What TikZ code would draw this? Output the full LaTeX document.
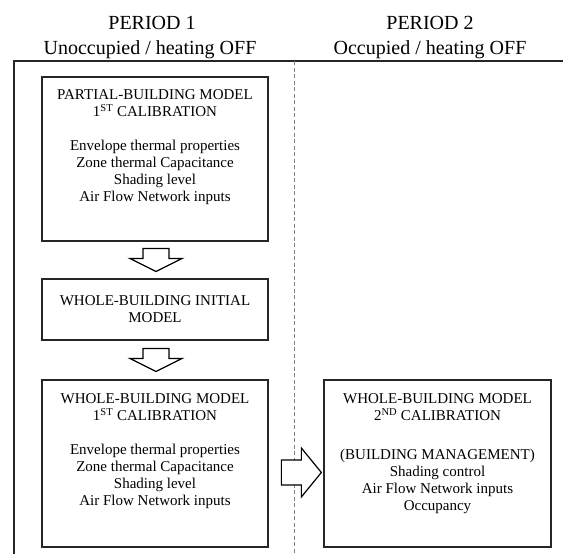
\documentclass[tikz,border=0pt]{standalone}
\usepackage{fontspec}
\setmainfont{Liberation Serif}
\usetikzlibrary{calc}

\tikzset{
  modelbox/.style={draw=black!85, line width=1.3pt, minimum width=226pt, inner sep=0pt},
  boxtext/.style={align=center, inner sep=0pt, font=\fontsize{15}{17}\selectfont},
  titletext/.style={inner sep=0pt, font=\fontsize{20}{24}\selectfont},
  blockarrow/.style={draw=black, line width=1.2pt, fill=white, line join=miter},
}

\begin{document}
\begin{tikzpicture}[x=1pt, y=-1pt]
    \useasboundingbox (0,0) rectangle (563,554);

    % Column headings
    \node[titletext, anchor=base] (per1) at (152,30) {PERIOD 1};
    \node[titletext, anchor=base] (per1sub) at (150,54) {Unoccupied / heating OFF};
    \node[titletext, anchor=base] (per2) at (430,30) {PERIOD 2};
    \node[titletext, anchor=base] (per2sub) at (430,54) {Occupied / heating OFF};

    % Frame and period separator
    \draw[black!85, line width=1.5pt] (14,556) -- (14,61) -- (565,61);
    \draw[gray, line width=0.6pt, dash pattern=on 4pt off 2.5pt] (294,61) -- (294,556);

    % Period 1: partial-building model
    \node[modelbox, minimum height=164pt] (pbm) at (155,159) {};
    \node[boxtext, anchor=north] (pbmtxt) at ($(pbm.north)+(0,13)$)
        {PARTIAL-BUILDING MODEL\\1\textsuperscript{ST} CALIBRATION\\[17pt]
         Envelope thermal properties\\Zone thermal Capacitance\\
         Shading level\\Air Flow Network inputs};

    % Period 1: whole-building initial model
    \node[modelbox, minimum height=61pt, boxtext] (wbi) at (155,309.5)
        {WHOLE-BUILDING INITIAL\\MODEL};

    % Period 1: whole-building model, 1st calibration
    \node[modelbox, minimum height=167pt] (wbm1) at (155,463.5) {};
    \node[boxtext, anchor=north] (wbm1txt) at ($(wbm1.north)+(0,14)$)
        {WHOLE-BUILDING MODEL\\1\textsuperscript{ST} CALIBRATION\\[17pt]
         Envelope thermal properties\\Zone thermal Capacitance\\
         Shading level\\Air Flow Network inputs};

    % Period 2: whole-building model, 2nd calibration
    \node[modelbox, minimum width=227pt, minimum height=167pt] (wbm2) at (437.5,463.5) {};
    \node[boxtext, anchor=north] (wbm2txt) at ($(wbm2.north)+(0,14)$)
        {WHOLE-BUILDING MODEL\\2\textsuperscript{ND} CALIBRATION\\[22pt]
         (BUILDING MANAGEMENT)\\Shading control\\
         Air Flow Network inputs\\Occupancy};

    % Block arrows
    \coordinate (a1) at ($(pbm.south)!0.5!(wbi.north)+(1,0)$);
    \draw[blockarrow] ($(a1)+(-13,-11.5)$) -- ($(a1)+(13,-11.5)$) -- ($(a1)+(13,-1.5)$)
        -- ($(a1)+(26,-1.5)$) -- ($(a1)+(0,11.5)$) -- ($(a1)+(-26,-1.5)$)
        -- ($(a1)+(-13,-1.5)$) -- cycle;

    \coordinate (a2) at ($(wbi.south)!0.5!(wbm1.north)+(1,0)$);
    \draw[blockarrow] ($(a2)+(-13,-11.5)$) -- ($(a2)+(13,-11.5)$) -- ($(a2)+(13,-1.5)$)
        -- ($(a2)+(26,-1.5)$) -- ($(a2)+(0,11.5)$) -- ($(a2)+(-26,-1.5)$)
        -- ($(a2)+(-13,-1.5)$) -- cycle;

    \coordinate (a3) at ($(wbm2.west)+(-2,9)$);
    \draw[blockarrow] ($(a3)+(-40,-12.5)$) -- ($(a3)+(-20,-12.5)$) -- ($(a3)+(-20,-24.5)$)
        -- (a3) -- ($(a3)+(-20,24.5)$) -- ($(a3)+(-20,12.5)$)
        -- ($(a3)+(-40,12.5)$) -- cycle;
\end{tikzpicture}
\end{document}
